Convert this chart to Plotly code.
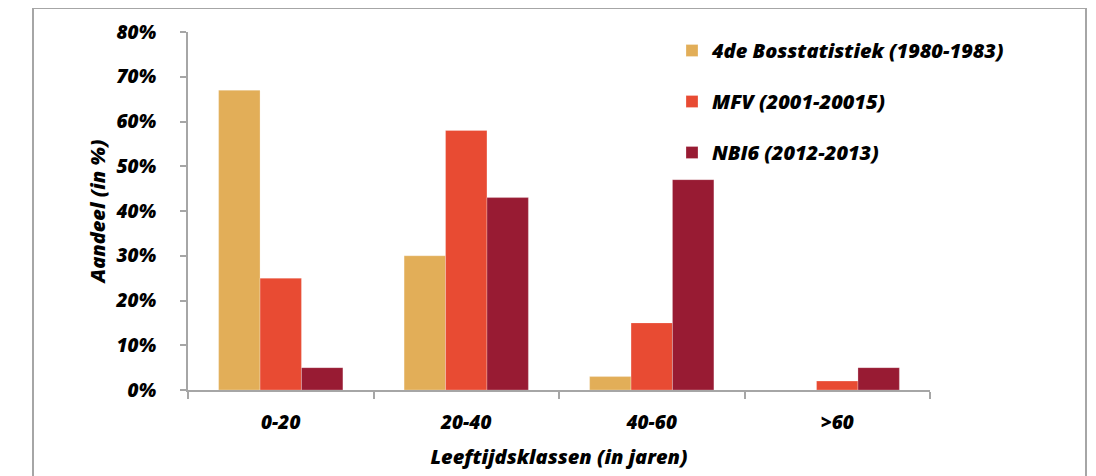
import plotly.graph_objects as go

categories = ["0-20", "20-40", "40-60", ">60"]
series_names = ["4de Bosstatistiek (1980-1983)", "MFV (2001-20015)", "NBI6 (2012-2013)"]
bos = [67, 30, 3, 0]
mfv = [25, 58, 15, 2]
nbi = [5, 43, 47, 5]
colors = ["#E2AE58", "#E84B33", "#981B33"]
y_ticks = [0, 10, 20, 30, 40, 50, 60, 70, 80]
y_labels = [f"{v}%" for v in y_ticks]

FONT = "Open Sans"
OFF = 8  # page body margin
W, H = 1096, 476
L = 188 - OFF
R = W - (930 - OFF)
T = 32 - OFF
B = H - (390 - OFF)
pw, ph = W - L - R, H - T - B

fig = go.Figure()
for i, (name, vals) in enumerate(zip(series_names, [bos, mfv, nbi])):
    fig.add_trace(go.Bar(
        x=categories, y=vals, name=name,
        marker=dict(color=colors[i], line=dict(color="rgba(255,255,255,0.5)", width=0.5)),
        legendgroup=f"g{i}",
    ))

def px_x(p):
    return (p - OFF - L) / pw

def px_y(p):
    return (H - B - (p - OFF)) / ph

border = dict(color="#A6A6A6", width=2)
fig.add_shape(type="line", xref="paper", yref="paper", x0=px_x(33), x1=px_x(33), y0=px_y(8), y1=px_y(500), line=border)
fig.add_shape(type="line", xref="paper", yref="paper", x0=px_x(33), x1=px_x(1086), y0=px_y(8), y1=px_y(8), line=border)
fig.add_shape(type="line", xref="paper", yref="paper", x0=px_x(1086), x1=px_x(1086), y0=px_y(8), y1=px_y(500), line=border)

bi = dict(family=FONT, color="black", weight=800, style="italic")

fig.update_layout(
    width=W, height=H,
    margin=dict(l=L, r=R, t=T, b=B, pad=0),
    paper_bgcolor="white", plot_bgcolor="white",
    barmode="group", bargap=0.33, bargroupgap=0,
    font=dict(family=FONT, color="black"),
    showlegend=True,
    legend=dict(
        x=px_x(672), y=px_y(31), xanchor="left", yanchor="top",
        traceorder="grouped", tracegroupgap=22,
        font=dict(bi, size=20),
        bgcolor="rgba(0,0,0,0)",
    ),
    xaxis=dict(
        type="category", showline=True, linecolor="#A6A6A6", linewidth=2,
        ticks="outside", tickson="boundaries", ticklen=7, tickcolor="#A6A6A6", tickwidth=2,
        tickfont=dict(bi, size=19),
        ticklabelstandoff=14,
        showgrid=False, zeroline=False,
        title=dict(text="Leeftijdsklassen (in jaren)", standoff=16,
                   font=dict(bi, size=20)),
    ),
    yaxis=dict(
        range=[0, 80], tickvals=y_ticks, ticktext=y_labels,
        showline=True, linecolor="#A6A6A6", linewidth=2,
        ticks="outside", ticklen=6, tickcolor="#A6A6A6", tickwidth=2,
        tickfont=dict(bi, size=19),
        ticklabelstandoff=20,
        showgrid=False, zeroline=False,
        title=dict(text="Aandeel (in %)", standoff=4,
                   font=dict(bi, size=20)),
    ),
)

fig.write_html("out.html")
